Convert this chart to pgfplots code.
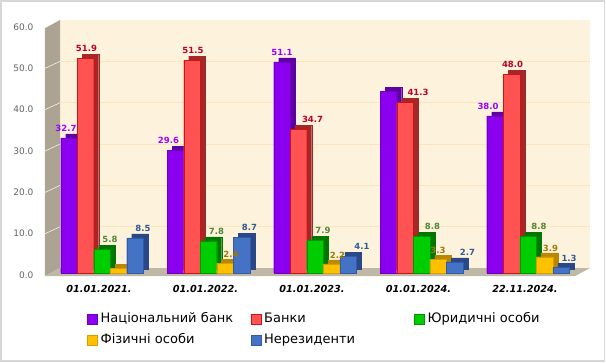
\documentclass[border=0pt]{standalone}
\usepackage{fontspec}
\setmainfont{DejaVu Sans}
\usepackage{pgfplots}
\pgfplotsset{compat=1.18}
\definecolor{framec}{RGB}{215,215,215}
\definecolor{backc}{RGB}{253,243,221}
\definecolor{wallc}{RGB}{172,163,146}
\definecolor{floorc}{RGB}{192,184,167}
\definecolor{gridc}{RGB}{250,230,185}
\definecolor{tickc}{RGB}{100,100,100}
\definecolor{pF}{RGB}{140,0,240}\definecolor{pS}{RGB}{95,0,165}\definecolor{pL}{RGB}{160,0,255}
\definecolor{rF}{RGB}{255,82,82}\definecolor{rB}{RGB}{205,20,20}\definecolor{rS}{RGB}{165,40,40}\definecolor{rL}{RGB}{190,0,40}
\definecolor{gF}{RGB}{0,205,0}\definecolor{gB}{RGB}{0,150,0}\definecolor{gS}{RGB}{0,120,0}\definecolor{gL}{RGB}{85,135,55}
\definecolor{yF}{RGB}{255,192,0}\definecolor{yB}{RGB}{215,160,0}\definecolor{yS}{RGB}{185,135,0}\definecolor{yL}{RGB}{160,120,0}
\definecolor{bF}{RGB}{68,114,196}\definecolor{bB}{RGB}{50,90,165}\definecolor{bS}{RGB}{40,72,135}\definecolor{bL}{RGB}{50,90,150}
\begin{document}
\begin{tikzpicture}[x=1pt,y=1pt]
\useasboundingbox (0,0) rectangle (606,362);
\fill[white] (0,0) rectangle (606,362);
\draw[framec, line width=1.5pt] (1,1) rectangle (604.5,361);
\begin{axis}[
  at={(45pt,84pt)}, anchor=south west, scale only axis,
  width=545pt, height=258pt,
  xmin=-0.535, xmax=4.582, ymin=-1.2, ymax=61.2,
  clip=false, axis line style={draw=none}, major tick length=0pt,
  ytick={0,10,...,60},
  yticklabel style={font=\fontsize{9}{10}\selectfont, text=tickc, xshift=-8pt, yshift=-2pt,
    /pgf/number format/.cd, fixed, fixed zerofill, precision=1, assume math mode=true},
  xtick={0,1,2,3,4},
  xticklabels={01.01.2021., 01.01.2022., 01.01.2023., 01.01.2024., 22.11.2024.},
  xticklabel style={font=\fontsize{9.7}{11}\selectfont\bfseries\itshape, xshift=-3pt, yshift=-4pt},
  every axis plot post/.append style={legend image code/.code={\draw[##1, line width=0.5pt] (0pt,-5pt) rectangle (10pt,5pt);}},
  legend columns=3,
  legend style={at={(axis description cs:0.077,-0.134)}, anchor=north west, draw=none, fill=none,
    inner sep=0pt, row sep=9pt,
    nodes={font=\fontsize{13}{15}\selectfont, text width=150pt, inner sep=0pt, text height=9.5pt, text depth=3pt, align=left},
    /tikz/every odd column/.append style={column sep=3pt},
    /tikz/every even column/.append style={column sep=0pt}},
  lab/.style={draw=none, mark=none, forget plot, point meta=explicit symbolic, nodes near coords,
    every node near coord/.append style={font=\fontsize{8.5}{9}\selectfont\bfseries, anchor=south, yshift=3pt}},
]
% back wall, side wall, floor
\fill[backc] (axis cs:-0.394,1.21) rectangle (axis cs:4.582,61.2);
\fill[wallc] (axis cs:-0.535,-0.73) -- (axis cs:-0.394,1.21) -- (axis cs:-0.394,61.2) -- (axis cs:-0.535,59.2) -- cycle;
\fill[floorc] (axis cs:-0.535,-0.73) -- (axis cs:4.442,-0.73) -- (axis cs:4.582,1.21) -- (axis cs:-0.394,1.21) -- cycle;
\draw[gridc, line width=0.6pt] (axis cs:-0.394,11.2) -- (axis cs:4.582,11.2);
\draw[gridc, line width=0.6pt] (axis cs:-0.394,21.2) -- (axis cs:4.582,21.2);
\draw[gridc, line width=0.6pt] (axis cs:-0.394,31.2) -- (axis cs:4.582,31.2);
\draw[gridc, line width=0.6pt] (axis cs:-0.394,41.2) -- (axis cs:4.582,41.2);
\draw[gridc, line width=0.6pt] (axis cs:-0.394,51.2) -- (axis cs:4.582,51.2);
\draw[white!85!wallc, line width=0.6pt] (axis cs:-0.535,9.5) -- (axis cs:-0.394,11.2);
\draw[white!85!wallc, line width=0.6pt] (axis cs:-0.535,19.5) -- (axis cs:-0.394,21.2);
\draw[white!85!wallc, line width=0.6pt] (axis cs:-0.535,29.5) -- (axis cs:-0.394,31.2);
\draw[white!85!wallc, line width=0.6pt] (axis cs:-0.535,39.5) -- (axis cs:-0.394,41.2);
\draw[white!85!wallc, line width=0.6pt] (axis cs:-0.535,49.5) -- (axis cs:-0.394,51.2);

% Національний банк (bars at group - 0.31)
\addplot[ybar, bar width=0.155, bar shift=0, fill=pS, draw=pS, xshift=5pt, yshift=4pt, forget plot]
  coordinates {(-0.31,32.7) (0.69,29.6) (1.69,51.1) (2.69,43.9) (3.69,38.0)};
\addplot[ybar, bar width=0.155, bar shift=0, fill=pF, draw=pF!80!black]
  coordinates {(-0.31,32.7) (0.69,29.6) (1.69,51.1) (2.69,43.9) (3.69,38.0)};
\addlegendentry{Національний банк}
% Банки (group - 0.155)
\addplot[ybar, bar width=0.155, bar shift=0, fill=rS, draw=rS, xshift=5pt, yshift=4pt, forget plot]
  coordinates {(-0.155,51.9) (0.845,51.5) (1.845,34.7) (2.845,41.3) (3.845,48.0)};
\addplot[ybar, bar width=0.155, bar shift=0, fill=rF, draw=rB]
  coordinates {(-0.155,51.9) (0.845,51.5) (1.845,34.7) (2.845,41.3) (3.845,48.0)};
\addlegendentry{Банки}
% Юридичні особи (group)
\addplot[ybar, bar width=0.155, bar shift=0, fill=gS, draw=gS, xshift=5pt, yshift=4pt, forget plot]
  coordinates {(0,5.8) (1,7.8) (2,7.9) (3,8.8) (4,8.8)};
\addplot[ybar, bar width=0.155, bar shift=0, fill=gF, draw=gB]
  coordinates {(0,5.8) (1,7.8) (2,7.9) (3,8.8) (4,8.8)};
\addlegendentry{Юридичні особи}
% Фізичні особи (group + 0.155)
\addplot[ybar, bar width=0.155, bar shift=0, fill=yS, draw=yS, xshift=5pt, yshift=4pt, forget plot]
  coordinates {(0.155,1.1) (1.155,2.4) (2.155,2.2) (3.155,3.3) (4.155,3.9)};
\addplot[ybar, bar width=0.155, bar shift=0, fill=yF, draw=yB]
  coordinates {(0.155,1.1) (1.155,2.4) (2.155,2.2) (3.155,3.3) (4.155,3.9)};
\addlegendentry{Фізичні особи}
% Нерезиденти (group + 0.31)
\addplot[ybar, bar width=0.155, bar shift=0, fill=bS, draw=bS, xshift=5pt, yshift=4pt, forget plot]
  coordinates {(0.31,8.5) (1.31,8.7) (2.31,4.1) (3.31,2.7) (4.31,1.3)};
\addplot[ybar, bar width=0.155, bar shift=0, fill=bF, draw=bB]
  coordinates {(0.31,8.5) (1.31,8.7) (2.31,4.1) (3.31,2.7) (4.31,1.3)};
\addlegendentry{Нерезиденти}

% value labels
\addplot[lab, every node near coord/.append style={text=pL, xshift=-3pt}]
  coordinates {(-0.31,32.7)[32.7] (0.69,29.6)[{29.6\kern8pt}] (1.69,51.1)[{\kern6pt 51.1}] (2.69,43.9)[{}] (3.69,38.0)[{38.0\kern8pt}]};
\addplot[lab, every node near coord/.append style={text=rL, xshift=1pt}]
  coordinates {(-0.155,51.9)[51.9] (0.845,51.5)[51.5] (1.845,34.7)[{\kern26pt 34.7}] (2.845,41.3)[{\kern24pt 41.3}] (3.845,48.0)[48.0]};
\addplot[lab, every node near coord/.append style={text=gL, xshift=8pt}]
  coordinates {(0,5.8)[5.8] (1,7.8)[7.8] (2,7.9)[7.9] (3,8.8)[{\kern6pt 8.8}] (4,8.8)[{\kern6pt 8.8}]};
\addplot[lab, every node near coord/.append style={text=yL, xshift=6pt, yshift=-1pt}]
  coordinates {(0.155,1.1)[{}] (1.155,2.4)[2.4] (2.155,2.2)[2.2] (3.155,3.3)[{3.3\kern12pt}] (4.155,3.9)[3.9]};
\addplot[lab, every node near coord/.append style={text=bL, xshift=8pt}]
  coordinates {(0.31,8.5)[8.5] (1.31,8.7)[8.7] (2.31,4.1)[{\kern12pt 4.1}] (3.31,2.7)[{\kern10pt 2.7}] (4.31,1.3)[1.3]};
\end{axis}
\end{tikzpicture}
\end{document}
